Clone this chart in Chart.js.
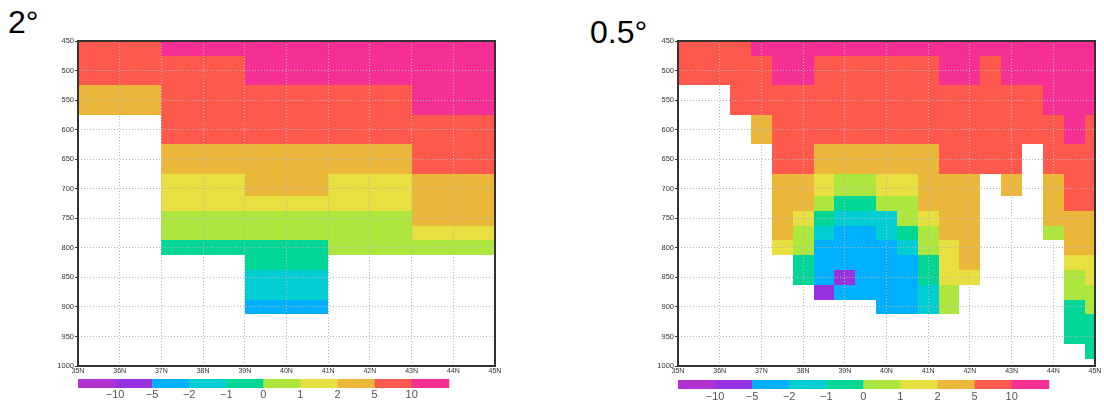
<!DOCTYPE html>
<html>
<head>
<meta charset="utf-8">
<script src="https://cdn.jsdelivr.net/npm/chart.js@4.4.1/dist/chart.umd.min.js"></script>
<style>
  body { margin: 0; background: #fff; width: 1104px; height: 402px; overflow: hidden; position: relative;
         font-family: "Liberation Sans", Arial, sans-serif; }
  canvas { position: absolute; top: 0; }
  .ttl { position: absolute; font-size: 32px; line-height: 32px; color: #000; }
</style>
</head>
<body>
<div class="ttl" style="left:8px;top:6px">2°</div>
<div class="ttl" style="left:590px;top:16px">0.5°</div>
<canvas id="c1" width="550" height="402" style="left:0"></canvas>
<canvas id="c2" width="554" height="402" style="left:550px"></canvas>
<script>
const _ = null;

// pressure levels (hPa), top to bottom
const levels = [450, 500, 550, 600, 650, 700, 725, 750, 775, 800, 825, 850, 875, 900, 925, 950, 975, 1000];

// 2 degree grid: cell centres
const lats2 = [36, 38, 40, 42, 44];
const vals2 = [
  [7, 12, 12, 12, 12],
  [7, 7, 12, 12, 12],
  [3, 7, 7, 7, 12],
  [_, 7, 7, 7, 7],
  [_, 3, 3, 3, 7],
  [_, 1.5, 3, 1.5, 3],
  [_, 1.5, 1.5, 1.5, 3],
  [_, 0.5, 0.5, 0.5, 3],
  [_, 0.5, 0.5, 0.5, 1.5],
  [_, -0.5, -0.5, 0.5, 0.5],
  [_, _, -0.5, _, _],
  [_, _, -1.5, _, _],
  [_, _, -1.5, _, _],
  [_, _, -3, _, _],
  [_, _, _, _, _],
  [_, _, _, _, _],
  [_, _, _, _, _],
  [_, _, _, _, _]
];

// 0.5 degree grid: cell centres
const lats05 = [35, 35.5, 36, 36.5, 37, 37.5, 38, 38.5, 39, 39.5, 40, 40.5, 41, 41.5, 42, 42.5, 43, 43.5, 44, 44.5, 45];
const vals05 = [
  [7, 7, 7, 7, 12, 12, 12, 12, 12, 12, 12, 12, 12, 12, 12, 12, 12, 12, 12, 12, 12],
  [7, 7, 7, 7, 7, 12, 12, 7, 7, 7, 7, 7, 7, 12, 12, 7, 12, 12, 12, 12, 12],
  [_, _, _, 7, 7, 7, 7, 7, 7, 7, 7, 7, 7, 7, 7, 7, 7, 7, 12, 12, 12],
  [_, _, _, _, 3, 7, 7, 7, 7, 7, 7, 7, 7, 7, 7, 7, 7, 7, 7, 12, 7],
  [_, _, _, _, _, 7, 7, 3, 3, 3, 3, 3, 3, 7, 7, 7, 7, _, 7, 7, 7],
  [_, _, _, _, _, 3, 3, 1.5, 0.5, 0.5, 1.5, 1.5, 3, 3, 3, _, 3, _, 3, 7, 7],
  [_, _, _, _, _, 3, 3, 0.5, -0.5, -0.5, 0.5, 0.5, 3, 3, 3, _, _, _, 3, 7, 7],
  [_, _, _, _, _, 3, 1.5, -0.5, -1.5, -1.5, -1.5, 0.5, 1.5, 3, 3, _, _, _, 3, 3, 3],
  [_, _, _, _, _, 3, 0.5, -1.5, -3, -3, -1.5, -0.5, 0.5, 3, 3, _, _, _, 0.5, 3, 3],
  [_, _, _, _, _, 1.5, 0.5, -3, -3, -3, -3, -1.5, 0.5, 1.5, 3, _, _, _, _, 3, 3],
  [_, _, _, _, _, _, -0.5, -3, -3, -3, -3, -3, -0.5, 1.5, 3, _, _, _, _, 1.5, 1.5],
  [_, _, _, _, _, _, -0.5, -3, -7, -3, -3, -3, -0.5, 1.5, 1.5, _, _, _, _, 0.5, 1.5],
  [_, _, _, _, _, _, _, -7, -3, -3, -3, -3, -1.5, 0.5, _, _, _, _, _, 0.5, 0.5],
  [_, _, _, _, _, _, _, _, _, _, -3, -3, -1.5, 0.5, _, _, _, _, _, -0.5, 0.5],
  [_, _, _, _, _, _, _, _, _, _, _, _, _, _, _, _, _, _, _, -0.5, -0.5],
  [_, _, _, _, _, _, _, _, _, _, _, _, _, _, _, _, _, _, _, -0.5, -0.5],
  [_, _, _, _, _, _, _, _, _, _, _, _, _, _, _, _, _, _, _, _, -0.5],
  [_, _, _, _, _, _, _, _, _, _, _, _, _, _, _, _, _, _, _, _, _]
];

// colour classes
const bounds = [-10, -5, -2, -1, 0, 1, 2, 5, 10];
const boundLabels = ['−10', '−5', '−2', '−1', '0', '1', '2', '5', '10'];
const colors = ['#b030d0', '#9632e0', '#00b0ff', '#00ced2', '#00d696', '#aee640', '#e8e040', '#ebb73a', '#ff584c', '#f52f93'];

function colorFor(v) {
  for (let i = 0; i < bounds.length; i++) {
    if (v < bounds[i]) return colors[i];
  }
  return colors[colors.length - 1];
}

Chart.defaults.font.family = '"Liberation Sans", Arial, sans-serif';

const heatmap = {
  id: 'heatmap',
  beforeDraw(chart, args, opts) {
    const {ctx, chartArea, scales: {x, y}} = chart;
    ctx.save();
    ctx.beginPath();
    ctx.rect(chartArea.left, chartArea.top, chartArea.width, chartArea.height);
    ctx.clip();
    opts.values.forEach((row, i) => {
      const pTop = i === 0 ? levels[0] : (levels[i - 1] + levels[i]) / 2;
      const pBot = i === levels.length - 1 ? levels[i] : (levels[i] + levels[i + 1]) / 2;
      const y0 = Math.round(y.getPixelForValue(pTop));
      const y1 = Math.round(y.getPixelForValue(pBot));
      row.forEach((v, j) => {
        if (v === null) return;
        const x0 = Math.round(x.getPixelForValue(opts.lats[j] - opts.step / 2));
        const x1 = Math.round(x.getPixelForValue(opts.lats[j] + opts.step / 2));
        ctx.fillStyle = colorFor(v);
        ctx.fillRect(x0, y0, x1 - x0, y1 - y0);
      });
    });
    ctx.restore();
  },
  afterDraw(chart, args, opts) {
    const {ctx, chartArea} = chart;
    ctx.save();
    // frame
    ctx.strokeStyle = '#333';
    ctx.lineWidth = 2;
    ctx.strokeRect(chartArea.left, chartArea.top, chartArea.width, chartArea.height);
    // colour bar
    const cbw = chartArea.width * 0.889;
    const bw = cbw / colors.length;
    colors.forEach((c, k) => {
      ctx.fillStyle = c;
      ctx.fillRect(chartArea.left + k * bw, opts.cbTop, bw + 0.5, 9);
    });
    ctx.fillStyle = '#555';
    ctx.font = '11px "Liberation Sans", Arial, sans-serif';
    ctx.textAlign = 'center';
    ctx.textBaseline = 'middle';
    boundLabels.forEach((t, k) => {
      ctx.fillText(t, chartArea.left + (k + 1) * bw, opts.cbTop + opts.labelOff);
    });
    ctx.restore();
  }
};

function makePanel(id, lats, step, values, padLeft, padRight, cbTop, labelOff) {
  return new Chart(document.getElementById(id), {
    type: 'scatter',
    data: { datasets: [{ data: [] }] },
    plugins: [heatmap],
    options: {
      responsive: false,
      animation: false,
      devicePixelRatio: 1,
      layout: { padding: { left: padLeft, right: padRight, top: 41, bottom: 24 } },
      plugins: {
        legend: { display: false },
        tooltip: { enabled: false },
        heatmap: { lats: lats, step: step, values: values, cbTop: cbTop, labelOff: labelOff }
      },
      scales: {
        x: {
          type: 'linear', min: 35, max: 45,
          afterFit: s => { s.height = 12; },
          ticks: { stepSize: 1, padding: 1, color: '#333', font: { size: 7 }, maxRotation: 0,
                   callback: v => v + 'N' },
          grid: { color: '#b8b8b8', drawTicks: false },
          border: { display: false, dash: [1, 2] }
        },
        y: {
          type: 'linear', min: 450, max: 1000, reverse: true,
          afterFit: s => { s.width = 34; },
          ticks: { stepSize: 50, padding: 1, color: '#333', font: { size: 7.5 },
                   callback: v => String(v) },
          grid: { color: '#b8b8b8', tickLength: 3, tickColor: '#333', tickBorderDash: [] },
          border: { display: false, dash: [1, 2] }
        }
      }
    }
  });
}

makePanel('c1', lats2, 2, vals2, 44, 55, 379, 15.5);
makePanel('c2', lats05, 0.5, vals05, 94, 9, 380, 16.5);
</script>
</body>
</html>
